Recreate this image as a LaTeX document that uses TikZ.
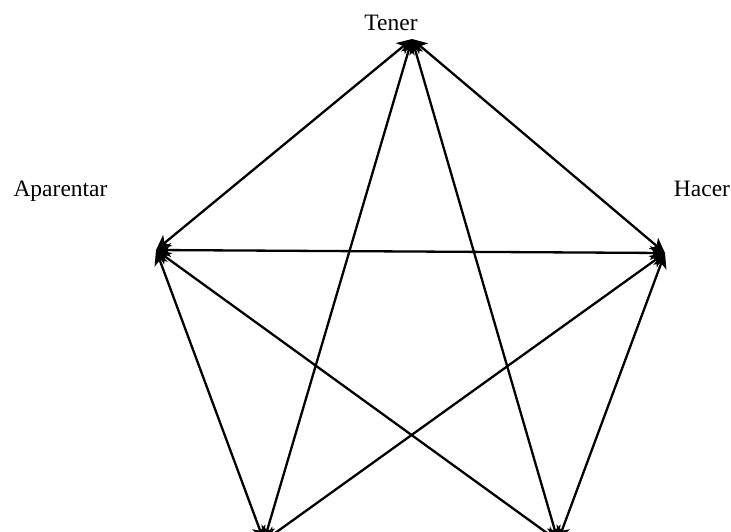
\documentclass[tikz,border=0pt]{standalone}
\usepackage{fontspec}
\setmainfont{Liberation Serif}
\usetikzlibrary{arrows.meta}
\begin{document}
\begin{tikzpicture}[x=1pt, y=-1pt,
    link/.style={line width=2.3pt,
        {Stealth[length=15pt, width=14pt, inset=4pt]}-{Stealth[length=15pt, width=14pt, inset=4pt]}},
    vlabel/.style={font=\fontsize{23.5}{28}\selectfont, inner sep=0pt, anchor=base}]
    \clip (0,0) rectangle (731,531);

    % Vertices of the pentagon
    \coordinate (tener)     at (412, 39);
    \coordinate (aparentar) at (156,250);
    \coordinate (hacer)     at (665,253);
    \coordinate (bleft)     at (264,541);
    \coordinate (bright)    at (558,541);

    % Labels
    \node[vlabel] (tenerlbl)     at (391, 30) {Tener};
    \node[vlabel] (aparentarlbl) at (60.5,196) {Aparentar};
    \node[vlabel] (hacerlbl)     at (702,196) {Hacer};

    % Outer edges
    \draw[link] (aparentar) -- (tener);
    \draw[link] (hacer) -- (tener);
    \draw[link] (aparentar) -- (bleft);
    \draw[link] (hacer) -- (bright);

    % Inner star
    \draw[link] (aparentar) -- (hacer);
    \draw[link] (bleft) -- (tener);
    \draw[link] (bright) -- (tener);
    \draw[link] (aparentar) -- (bright);
    \draw[link] (hacer) -- (bleft);
\end{tikzpicture}
\end{document}
